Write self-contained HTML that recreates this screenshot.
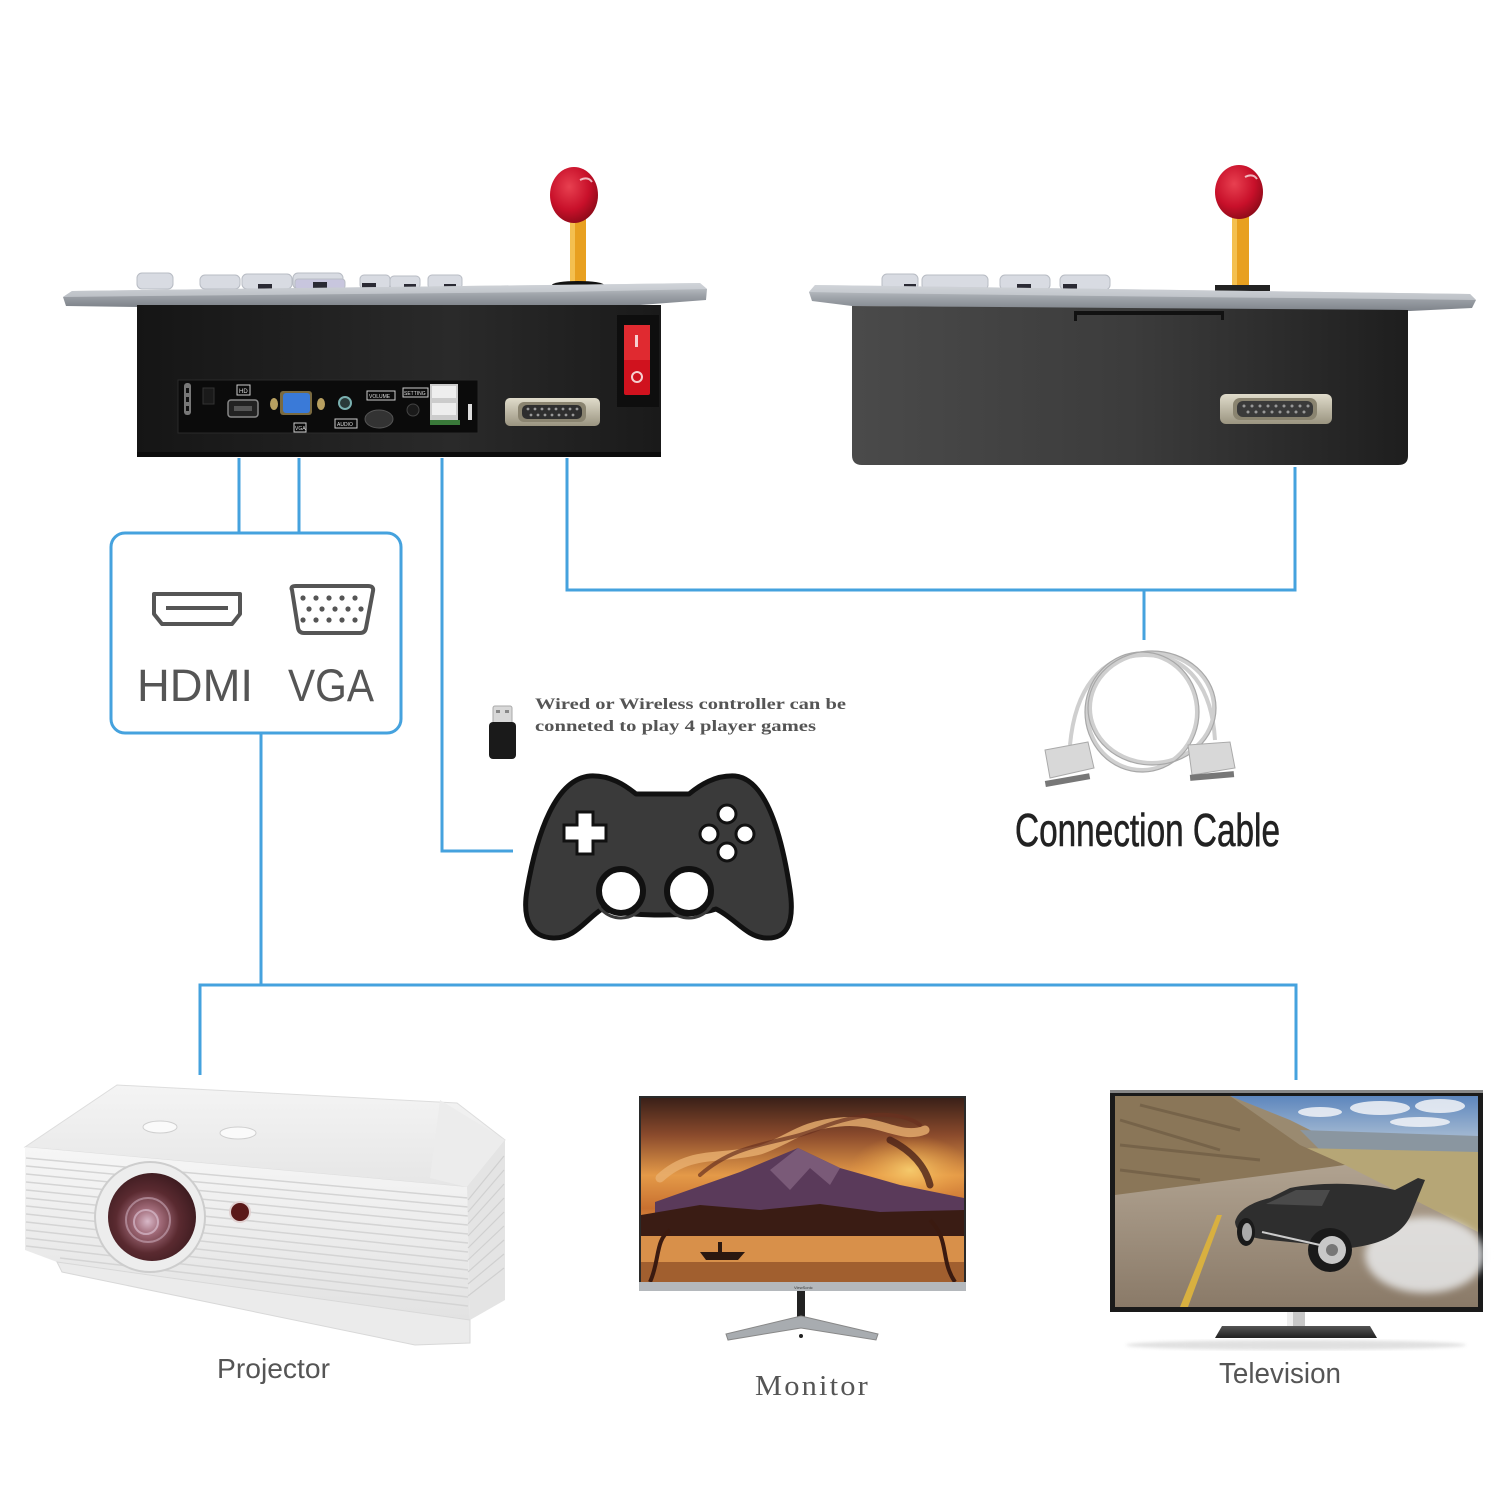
<!DOCTYPE html>
<html><head><meta charset="utf-8"><style>
html,body{margin:0;padding:0;background:#fff;}
svg{display:block;}
</style></head><body>
<svg width="1500" height="1500" viewBox="0 0 1500 1500" xmlns="http://www.w3.org/2000/svg">
<defs>
<linearGradient id="plate" x1="0" y1="0" x2="0" y2="1"><stop offset="0" stop-color="#c9cdd2"/><stop offset="0.5" stop-color="#9ea3a9"/><stop offset="1" stop-color="#7e838a"/></linearGradient>
<linearGradient id="bodyL" x1="0" y1="0" x2="1" y2="0"><stop offset="0" stop-color="#151515"/><stop offset="0.6" stop-color="#2a2a2a"/><stop offset="1" stop-color="#1a1a1a"/></linearGradient>
<linearGradient id="bodyR" x1="0" y1="0" x2="1" y2="0"><stop offset="0" stop-color="#4a4a4a"/><stop offset="0.5" stop-color="#3c3c3c"/><stop offset="1" stop-color="#1e1e1e"/></linearGradient>
<radialGradient id="ball" cx="0.4" cy="0.35" r="0.7"><stop offset="0" stop-color="#e84050"/><stop offset="0.6" stop-color="#c8102a"/><stop offset="1" stop-color="#8a0a18"/></radialGradient>
<linearGradient id="db" x1="0" y1="0" x2="0" y2="1"><stop offset="0" stop-color="#e0dccb"/><stop offset="1" stop-color="#9a9480"/></linearGradient>
<linearGradient id="monSky" x1="0" y1="0" x2="0" y2="1"><stop offset="0" stop-color="#3a2018"/><stop offset="0.2" stop-color="#8a4a2c"/><stop offset="0.42" stop-color="#e49a48"/><stop offset="0.6" stop-color="#c87030"/><stop offset="0.75" stop-color="#e8a050"/><stop offset="1" stop-color="#6a3018"/></linearGradient>
<radialGradient id="sun" cx="0.5" cy="0.5" r="0.5"><stop offset="0" stop-color="#f8d070" stop-opacity="0.9"/><stop offset="1" stop-color="#f0a040" stop-opacity="0"/></radialGradient>
<linearGradient id="tvSky" x1="0" y1="0" x2="0" y2="1"><stop offset="0" stop-color="#5d86bd"/><stop offset="1" stop-color="#b8c8d8"/></linearGradient>
<linearGradient id="road" x1="0" y1="0" x2="0" y2="1"><stop offset="0" stop-color="#b0a290"/><stop offset="1" stop-color="#8a7a68"/></linearGradient>
<radialGradient id="lens" cx="0.45" cy="0.55" r="0.6"><stop offset="0" stop-color="#d8b8c8"/><stop offset="0.25" stop-color="#a06a78"/><stop offset="0.6" stop-color="#5a2a30"/><stop offset="1" stop-color="#3a1a1e"/></radialGradient>
<linearGradient id="projTop" x1="0" y1="0" x2="0" y2="1"><stop offset="0" stop-color="#f4f4f4"/><stop offset="1" stop-color="#e6e6e6"/></linearGradient>
<linearGradient id="projFront" x1="0" y1="0" x2="0" y2="1"><stop offset="0" stop-color="#f6f6f6"/><stop offset="1" stop-color="#e2e2e2"/></linearGradient>
<linearGradient id="tvBase" x1="0" y1="0" x2="0" y2="1"><stop offset="0" stop-color="#555"/><stop offset="1" stop-color="#222"/></linearGradient>
<filter id="blur4"><feGaussianBlur stdDeviation="4"/></filter>
<filter id="blur2"><feGaussianBlur stdDeviation="1.5"/></filter>
</defs>

<!-- ============ CONNECTOR LINES ============ -->
<g stroke="#45a2de" stroke-width="3" fill="none">
  <line x1="239" y1="458" x2="239" y2="534"/>
  <line x1="299" y1="458" x2="299" y2="534"/>
  <rect x="111" y="533" width="290" height="200" rx="14"/>
  <line x1="261" y1="733" x2="261" y2="985"/>
  <polyline points="200,1075 200,985 1296,985 1296,1080"/>
  <polyline points="442,458 442,851 513,851"/>
  <polyline points="567,458 567,590 1295,590 1295,467"/>
  <line x1="1144" y1="590" x2="1144" y2="640"/>
</g>

<!-- ============ LEFT CONSOLE ============ -->
<g>
  <rect x="570" y="215" width="16" height="68" fill="#e8a020"/>
  <rect x="570" y="215" width="5" height="68" fill="#f4c050"/>
  <ellipse cx="574" cy="195" rx="24" ry="28" fill="url(#ball)"/>
  <path d="M580,180 q8,-4 12,2" stroke="#fff" stroke-width="2" fill="none" opacity="0.7"/>
  <ellipse cx="578" cy="285" rx="26" ry="4" fill="#111"/>
  <g fill="#d8dbe2" stroke="#b8bcc4" stroke-width="1">
    <rect x="137" y="273" width="36" height="16" rx="5"/>
    <rect x="200" y="275" width="40" height="14" rx="5"/>
    <rect x="242" y="274" width="50" height="15" rx="5"/>
    <rect x="293" y="273" width="50" height="16" rx="5"/>
    <rect x="295" y="279" width="50" height="10" rx="3" fill="#c8c6de"/>
    <rect x="360" y="275" width="30" height="14" rx="4"/>
    <rect x="390" y="276" width="30" height="13" rx="4"/>
    <rect x="428" y="275" width="34" height="14" rx="4"/>
  </g>
  <g fill="#2a2a34">
    <rect x="258" y="284" width="14" height="6"/>
    <rect x="313" y="282" width="14" height="7"/>
    <rect x="362" y="283" width="14" height="6"/>
    <rect x="404" y="284" width="12" height="6"/>
    <rect x="444" y="284" width="12" height="6"/>
  </g>
  <polygon points="63,297 72,291 700,283 707,289 706,300 640,305 140,307 66,306" fill="url(#plate)"/>
  <polygon points="63,297 72,291 700,283 707,289 560,292 150,296" fill="#d6d9de" opacity="0.6"/>
  <rect x="137" y="305" width="524" height="152" fill="url(#bodyL)"/>
  <rect x="137" y="452" width="524" height="5" fill="#0c0c0c"/>
  <rect x="617" y="315" width="42" height="92" fill="#0e0e0e"/>
  <rect x="624" y="325" width="26" height="70" rx="2" fill="#d0121e"/>
  <rect x="624" y="325" width="26" height="35" fill="#e02a30"/>
  <rect x="635" y="335" width="3" height="12" fill="#f6d0d0"/>
  <circle cx="637" cy="377" r="5" fill="none" stroke="#f6d0d0" stroke-width="2"/>
  <rect x="178" y="380" width="300" height="53" fill="#0b0b0b" stroke="#2a2a2a" stroke-width="1"/>
  <rect x="184" y="383" width="7" height="32" rx="3" fill="#777"/>
  <rect x="186" y="388" width="3" height="5" fill="#111"/><rect x="186" y="397" width="3" height="5" fill="#111"/><rect x="186" y="406" width="3" height="5" fill="#111"/>
  <rect x="203" y="388" width="11" height="16" fill="#1a1a1a" stroke="#333"/>
  <rect x="237" y="385" width="13" height="10" fill="none" stroke="#ccc" stroke-width="1"/>
  <text x="239" y="393" font-family="Liberation Sans, sans-serif" font-size="6" fill="#ddd">HD</text>
  <rect x="228" y="400" width="30" height="17" rx="3" fill="#222" stroke="#888" stroke-width="1.5"/>
  <rect x="234" y="406" width="18" height="5" fill="#555"/>
  <ellipse cx="274" cy="404" rx="4" ry="6" fill="#b8a060"/>
  <ellipse cx="321" cy="404" rx="4" ry="6" fill="#b8a060"/>
  <rect x="280" y="391" width="32" height="24" rx="3" fill="#7a6a40"/>
  <rect x="283" y="393" width="27" height="20" rx="3" fill="#3a7ad8"/>
  <rect x="294" y="423" width="12" height="9" fill="none" stroke="#ccc" stroke-width="1"/>
  <text x="295" y="430" font-family="Liberation Sans, sans-serif" font-size="5" fill="#ddd">VGA</text>
  <circle cx="345" cy="403" r="6" fill="#2a3a3a" stroke="#7ab0b0" stroke-width="2"/>
  <rect x="335" y="419" width="22" height="9" fill="none" stroke="#ccc" stroke-width="1"/>
  <text x="337" y="426" font-family="Liberation Sans, sans-serif" font-size="5" fill="#ddd">AUDIO</text>
  <rect x="367" y="391" width="28" height="9" fill="none" stroke="#ccc" stroke-width="1"/>
  <text x="369" y="398" font-family="Liberation Sans, sans-serif" font-size="5" fill="#ddd">VOLUME</text>
  <ellipse cx="379" cy="419" rx="14" ry="9" fill="#333" stroke="#555"/>
  <rect x="403" y="388" width="25" height="9" fill="none" stroke="#ccc" stroke-width="1"/>
  <text x="404" y="395" font-family="Liberation Sans, sans-serif" font-size="5" fill="#ddd">SETTING</text>
  <circle cx="413" cy="410" r="6" fill="#1a1a1a" stroke="#444"/>
  <rect x="430" y="384" width="28" height="38" fill="#ccc"/>
  <rect x="432" y="386" width="24" height="12" fill="#eee"/>
  <rect x="432" y="403" width="24" height="12" fill="#eee"/>
  <rect x="430" y="420" width="30" height="5" fill="#3a7a3a"/>
  <rect x="468" y="404" width="4" height="16" fill="#ddd"/>
  <!-- DB25 left -->
  <rect x="505" y="398" width="95" height="28" rx="5" fill="url(#db)"/>
  <rect x="518" y="402" width="68" height="20" rx="6" fill="#8a8470"/>
  <rect x="522" y="405" width="60" height="14" rx="5" fill="#2e2e2e"/>
  <g fill="#999">
    <circle cx="528" cy="409" r="1.4"/><circle cx="535" cy="409" r="1.4"/><circle cx="542" cy="409" r="1.4"/><circle cx="549" cy="409" r="1.4"/><circle cx="556" cy="409" r="1.4"/><circle cx="563" cy="409" r="1.4"/><circle cx="570" cy="409" r="1.4"/><circle cx="577" cy="409" r="1.4"/>
    <circle cx="531" cy="415" r="1.4"/><circle cx="538" cy="415" r="1.4"/><circle cx="545" cy="415" r="1.4"/><circle cx="552" cy="415" r="1.4"/><circle cx="559" cy="415" r="1.4"/><circle cx="566" cy="415" r="1.4"/><circle cx="573" cy="415" r="1.4"/>
  </g>
</g>

<!-- ============ RIGHT CONSOLE ============ -->
<g>
  <rect x="1232" y="213" width="17" height="72" fill="#e8a020"/>
  <rect x="1232" y="213" width="5" height="72" fill="#f4c050"/>
  <ellipse cx="1239" cy="192" rx="24" ry="27" fill="url(#ball)"/>
  <path d="M1245,177 q8,-4 12,2" stroke="#fff" stroke-width="2" fill="none" opacity="0.7"/>
  <rect x="1215" y="285" width="55" height="6" fill="#222"/>
  <g fill="#d8dbe2" stroke="#b8bcc4" stroke-width="1">
    <rect x="882" y="274" width="36" height="16" rx="5"/>
    <rect x="922" y="275" width="66" height="15" rx="5"/>
    <rect x="1000" y="275" width="50" height="15" rx="5"/>
    <rect x="1060" y="275" width="50" height="15" rx="5"/>
  </g>
  <g fill="#2a2a34">
    <rect x="904" y="284" width="12" height="5"/>
    <rect x="1017" y="284" width="14" height="5"/>
    <rect x="1063" y="284" width="14" height="5"/>
  </g>
  <polygon points="809,292 815,285 1470,294 1476,300 1472,308 1410,311 852,306 812,301" fill="url(#plate)"/>
  <polygon points="809,292 815,285 1470,294 1476,300 1100,296 860,293" fill="#d6d9de" opacity="0.6"/>
  <path d="M852,306 L1408,310 L1408,456 Q1408,465 1398,465 L862,465 Q852,465 852,455 Z" fill="url(#bodyR)"/>
  <rect x="1074" y="311" width="150" height="4" fill="#111"/>
  <rect x="1074" y="311" width="3" height="10" fill="#111"/>
  <rect x="1221" y="311" width="3" height="9" fill="#111"/>
  <rect x="1220" y="394" width="112" height="30" rx="6" fill="url(#db)"/>
  <rect x="1233" y="398" width="84" height="22" rx="7" fill="#8a8470"/>
  <rect x="1237" y="401" width="76" height="16" rx="6" fill="#3a3a3a"/>
  <g fill="#999">
    <circle cx="1244" cy="406" r="1.5"/><circle cx="1252" cy="406" r="1.5"/><circle cx="1260" cy="406" r="1.5"/><circle cx="1268" cy="406" r="1.5"/><circle cx="1276" cy="406" r="1.5"/><circle cx="1284" cy="406" r="1.5"/><circle cx="1292" cy="406" r="1.5"/><circle cx="1300" cy="406" r="1.5"/><circle cx="1308" cy="406" r="1.5"/>
    <circle cx="1248" cy="412" r="1.5"/><circle cx="1256" cy="412" r="1.5"/><circle cx="1264" cy="412" r="1.5"/><circle cx="1272" cy="412" r="1.5"/><circle cx="1280" cy="412" r="1.5"/><circle cx="1288" cy="412" r="1.5"/><circle cx="1296" cy="412" r="1.5"/><circle cx="1304" cy="412" r="1.5"/>
  </g>
</g>

<!-- ============ HDMI / VGA BOX ============ -->
<g stroke="#555" stroke-width="4" fill="none" stroke-linejoin="round">
  <path d="M154,594 L240,594 L240,614 L232,624 L162,624 L154,614 Z"/>
  <line x1="166" y1="608" x2="228" y2="608"/>
  <path d="M292,590 Q290,586 296,586 L368,586 Q374,586 373,591 L366,628 Q365,633 360,633 L304,633 Q299,633 298,628 Z"/>
</g>
<g fill="#555">
  <circle cx="303" cy="598" r="2.6"/><circle cx="316" cy="598" r="2.6"/><circle cx="329" cy="598" r="2.6"/><circle cx="342" cy="598" r="2.6"/><circle cx="355" cy="598" r="2.6"/>
  <circle cx="309" cy="609" r="2.6"/><circle cx="322" cy="609" r="2.6"/><circle cx="335" cy="609" r="2.6"/><circle cx="348" cy="609" r="2.6"/><circle cx="361" cy="609" r="2.6"/>
  <circle cx="303" cy="620" r="2.6"/><circle cx="316" cy="620" r="2.6"/><circle cx="329" cy="620" r="2.6"/><circle cx="342" cy="620" r="2.6"/><circle cx="355" cy="620" r="2.6"/>
</g>
<text x="137" y="701" font-family="Liberation Sans, sans-serif" font-size="45" fill="#555" textLength="116" lengthAdjust="spacingAndGlyphs">HDMI</text>
<text x="288" y="701" font-family="Liberation Sans, sans-serif" font-size="45" fill="#555" textLength="86" lengthAdjust="spacingAndGlyphs">VGA</text>

<!-- ============ CONTROLLER ============ -->
<rect x="493" y="706" width="19" height="19" rx="2" fill="#d8d8d8" stroke="#aaa"/>
<rect x="496" y="710" width="4" height="3" fill="#888"/><rect x="505" y="710" width="4" height="3" fill="#888"/>
<rect x="489" y="722" width="27" height="37" rx="4" fill="#1a1a1a"/>
<text x="535" y="709" font-family="Liberation Serif, serif" font-weight="bold" font-size="16" fill="#555" textLength="311" lengthAdjust="spacingAndGlyphs">Wired or Wireless controller can be</text>
<text x="535" y="731" font-family="Liberation Serif, serif" font-weight="bold" font-size="16" fill="#555" textLength="281" lengthAdjust="spacingAndGlyphs">conneted to play 4 player games</text>

<path d="M590,776 C610,775 625,785 636,794 L689,794 C700,785 715,775 735,776 C765,779 781,830 790,890 C795,925 786,939 766,938 C746,937 735,918 716,909 C692,917 632,917 602,909 C586,919 575,939 553,938 C531,937 522,920 527,890 C537,832 556,779 590,776 Z" fill="#3a3a3a" stroke="#111" stroke-width="5" stroke-linejoin="round"/>
<path d="M577,812 L593,812 L593,825 L606,825 L606,841 L593,841 L593,854 L577,854 L577,841 L564,841 L564,825 L577,825 Z" fill="#fff" stroke="#111" stroke-width="3"/>
<g fill="#fff" stroke="#111" stroke-width="3">
  <circle cx="727" cy="814" r="9"/><circle cx="727" cy="852" r="9"/><circle cx="709" cy="834" r="9"/><circle cx="745" cy="834" r="9"/>
  <circle cx="621" cy="891" r="22" stroke-width="6"/>
  <circle cx="689" cy="891" r="22" stroke-width="6"/>
</g>
<g fill="none" stroke="#3a3a3a" stroke-width="3">
  <circle cx="621" cy="891" r="27"/>
  <circle cx="689" cy="891" r="27"/>
</g>

<!-- ============ CONNECTION CABLE ============ -->
<g fill="none" stroke="#cfcfcf" stroke-width="4">
  <ellipse cx="1142" cy="712" rx="55" ry="58"/>
  <ellipse cx="1152" cy="708" rx="62" ry="55"/>
  <path d="M1070,745 C1075,690 1100,655 1145,655 C1190,655 1212,690 1215,740"/>
</g>
<g fill="none" stroke="#a8a8a8" stroke-width="1.2">
  <ellipse cx="1142" cy="712" rx="57" ry="60"/>
  <ellipse cx="1152" cy="708" rx="64" ry="57"/>
</g>
<polygon points="1045,750 1088,742 1094,768 1050,778" fill="#d8d8d8" stroke="#aaa"/>
<rect x="1045" y="777" width="45" height="6" fill="#777" transform="rotate(-10 1068 780)"/>
<polygon points="1188,745 1230,742 1235,768 1192,775" fill="#d8d8d8" stroke="#aaa"/>
<rect x="1190" y="773" width="44" height="6" fill="#777" transform="rotate(-5 1212 776)"/>
<text x="1015" y="846" font-family="Liberation Sans, sans-serif" font-size="46" fill="#222" stroke="#222" stroke-width="0.6" textLength="265" lengthAdjust="spacingAndGlyphs">Connection Cable</text>

<!-- ============ PROJECTOR ============ -->
<g>
  <polygon points="25,1147 117,1085 457,1103 505,1140 467,1187" fill="url(#projTop)" stroke="#ddd"/>
  <polygon points="440,1100 505,1140 467,1187 430,1178" fill="#ececec"/>
  <polygon points="25,1147 467,1187 470,1320 57,1262 25,1250" fill="url(#projFront)"/>
  <g stroke="#d4d4d4" stroke-width="1.5">
    <line x1="26" y1="1158" x2="468" y2="1198"/>
    <line x1="26" y1="1166" x2="468" y2="1207"/>
    <line x1="26" y1="1174" x2="468" y2="1216"/>
    <line x1="26" y1="1182" x2="468" y2="1225"/>
    <line x1="26" y1="1190" x2="468" y2="1234"/>
    <line x1="26" y1="1198" x2="468" y2="1243"/>
    <line x1="26" y1="1206" x2="468" y2="1252"/>
    <line x1="26" y1="1214" x2="468" y2="1261"/>
    <line x1="26" y1="1222" x2="468" y2="1270"/>
    <line x1="26" y1="1230" x2="468" y2="1279"/>
    <line x1="26" y1="1238" x2="468" y2="1288"/>
    <line x1="26" y1="1246" x2="468" y2="1297"/>
    <line x1="60" y1="1258" x2="468" y2="1306"/>
  </g>
  <polygon points="467,1187 505,1140 505,1300 470,1320" fill="#e4e4e4"/>
  <g stroke="#d0d0d0" stroke-width="1.2">
    <line x1="468" y1="1200" x2="504" y2="1156"/><line x1="468" y1="1212" x2="504" y2="1170"/>
    <line x1="468" y1="1224" x2="504" y2="1184"/><line x1="468" y1="1236" x2="504" y2="1198"/>
    <line x1="468" y1="1248" x2="504" y2="1212"/><line x1="468" y1="1260" x2="504" y2="1226"/>
    <line x1="468" y1="1272" x2="504" y2="1240"/><line x1="468" y1="1284" x2="504" y2="1254"/>
    <line x1="468" y1="1296" x2="504" y2="1268"/>
  </g>
  <polygon points="57,1262 470,1320 470,1343 415,1345 62,1272" fill="#ebebeb" stroke="#d8d8d8"/>
  <ellipse cx="160" cy="1127" rx="17" ry="6" fill="#fafafa" stroke="#cfcfcf"/>
  <ellipse cx="238" cy="1133" rx="18" ry="6" fill="#fafafa" stroke="#cfcfcf"/>
  <circle cx="150" cy="1217" r="55" fill="#ededed" stroke="#cdcdcd" stroke-width="2"/>
  <circle cx="152" cy="1217" r="44" fill="url(#lens)"/>
  <circle cx="148" cy="1220" r="22" fill="none" stroke="#c8a8b8" stroke-width="2" opacity="0.6"/>
  <circle cx="146" cy="1222" r="12" fill="none" stroke="#e0c8d8" stroke-width="2" opacity="0.6"/>
  <circle cx="240" cy="1212" r="10" fill="#5a1818" stroke="#e0d0d0" stroke-width="2"/>
</g>
<text x="217" y="1378" font-family="Liberation Sans, sans-serif" font-size="28" fill="#555" textLength="113" lengthAdjust="spacingAndGlyphs">Projector</text>

<!-- ============ MONITOR ============ -->
<g>
  <rect x="639" y="1096" width="327" height="195" fill="#2a2a2a"/>
  <rect x="641" y="1098" width="323" height="184" fill="url(#monSky)"/>
  <ellipse cx="910" cy="1170" rx="60" ry="35" fill="url(#sun)"/>
  <g fill="none" stroke-linecap="round">
    <path d="M660,1178 C690,1150 720,1160 760,1150 C790,1140 800,1125 840,1122 C880,1118 900,1140 925,1130" stroke="#e8b070" stroke-width="9" opacity="0.8"/>
    <path d="M700,1175 C740,1140 780,1145 820,1128 C860,1112 900,1110 920,1125" stroke="#6a3020" stroke-width="4" opacity="0.7"/>
    <path d="M890,1140 C910,1150 925,1165 930,1185" stroke="#4a2018" stroke-width="7" opacity="0.8"/>
  </g>
  <polygon points="655,1202 740,1172 798,1148 840,1168 900,1185 964,1198 964,1218 655,1218" fill="#5a3a5a"/>
  <polygon points="798,1148 770,1170 790,1190 810,1168 830,1185 840,1168" fill="#7a5a78"/>
  <polygon points="641,1215 700,1205 760,1210 820,1204 880,1212 964,1210 964,1238 641,1238" fill="#3a1c14"/>
  <rect x="641" y="1236" width="323" height="46" fill="#d8904a"/>
  <rect x="641" y="1262" width="323" height="20" fill="#8a4a24" opacity="0.7"/>
  <polygon points="700,1252 745,1252 738,1260 706,1260" fill="#2a1810"/>
  <rect x="718" y="1242" width="4" height="10" fill="#2a1810"/>
  <path d="M650,1282 C660,1260 655,1240 670,1230" stroke="#3a1a10" stroke-width="4" fill="none"/>
  <path d="M955,1282 C940,1260 950,1240 930,1220" stroke="#3a1a10" stroke-width="4" fill="none"/>
  <rect x="639" y="1282" width="327" height="9" fill="#b4b8bc"/>
  <text x="794" y="1289" font-family="Liberation Sans, sans-serif" font-size="4" fill="#333">ViewSonic</text>
  <rect x="797" y="1291" width="8" height="28" fill="#222"/>
  <path d="M801,1316 L878,1334 L876,1340 L801,1328 L728,1340 L726,1334 Z" fill="#a8acb0" stroke="#888" stroke-width="1"/>
  <circle cx="801" cy="1336" r="2" fill="#222"/>
</g>
<text x="755" y="1395" font-family="Liberation Serif, serif" font-size="28" fill="#555" letter-spacing="2" textLength="115" lengthAdjust="spacingAndGlyphs">Monitor</text>

<!-- ============ TELEVISION ============ -->
<g>
  <rect x="1110" y="1090" width="373" height="222" fill="#1a1a1a"/>
  <rect x="1110" y="1090" width="373" height="3" fill="#888"/>
  <rect x="1115" y="1096" width="363" height="211" fill="#9a8a70"/>
  <polygon points="1230,1096 1478,1096 1478,1150 1330,1140 1290,1120" fill="url(#tvSky)"/>
  <g fill="#f2f4f8" opacity="0.85">
    <ellipse cx="1380" cy="1108" rx="30" ry="7"/><ellipse cx="1440" cy="1106" rx="25" ry="7"/>
    <ellipse cx="1320" cy="1112" rx="22" ry="5"/><ellipse cx="1420" cy="1122" rx="30" ry="5"/>
  </g>
  <polygon points="1300,1130 1478,1136 1478,1165 1330,1160" fill="#8a96a0"/>
  <polygon points="1300,1148 1478,1152 1478,1240 1330,1182" fill="#b6a676"/>
  <polygon points="1115,1096 1230,1096 1300,1145 1345,1165 1115,1205" fill="#8a7658"/>
  <g stroke="#6a5840" stroke-width="3" opacity="0.6">
    <line x1="1120" y1="1120" x2="1220" y2="1150"/><line x1="1120" y1="1145" x2="1260" y2="1160"/>
    <line x1="1140" y1="1105" x2="1240" y2="1130"/><line x1="1120" y1="1170" x2="1200" y2="1180"/>
  </g>
  <polygon points="1115,1195 1345,1165 1478,1232 1478,1307 1115,1307" fill="url(#road)"/>
  <polygon points="1180,1307 1188,1307 1222,1215 1217,1215" fill="#d8b040"/>
  <ellipse cx="1425" cy="1255" rx="60" ry="38" fill="#eef0f2" opacity="0.8" filter="url(#blur4)"/>
  <path d="M1235,1222 C1238,1210 1252,1202 1270,1198 L1290,1188 C1320,1182 1360,1182 1395,1190 L1418,1178 L1425,1180 L1412,1212 C1405,1232 1385,1244 1350,1248 L1270,1240 C1250,1238 1236,1234 1235,1222 Z" fill="#2e2e2e"/>
  <path d="M1266,1204 L1296,1190 L1330,1190 L1322,1206 Z" fill="#4a4a4a"/>
  <circle cx="1330" cy="1250" r="22" fill="#1a1a1a"/>
  <circle cx="1332" cy="1250" r="14" fill="#c8c8c8"/>
  <circle cx="1332" cy="1250" r="6" fill="#777"/>
  <ellipse cx="1246" cy="1232" rx="9" ry="14" fill="#1a1a1a"/>
  <ellipse cx="1247" cy="1232" rx="5" ry="9" fill="#aaa"/>
  <line x1="1262" y1="1232" x2="1320" y2="1245" stroke="#ccc" stroke-width="2"/>
  <rect x="1287" y="1312" width="18" height="15" fill="#c8c8c8"/>
  <rect x="1287" y="1312" width="6" height="15" fill="#eee"/>
  <ellipse cx="1296" cy="1345" rx="170" ry="5" fill="#ccc" opacity="0.6" filter="url(#blur2)"/>
  <polygon points="1222,1326 1370,1326 1377,1338 1215,1338" fill="url(#tvBase)"/>
</g>
<text x="1219" y="1383" font-family="Liberation Sans, sans-serif" font-size="29" fill="#555" textLength="122" lengthAdjust="spacingAndGlyphs">Television</text>

</svg>
</body></html>
